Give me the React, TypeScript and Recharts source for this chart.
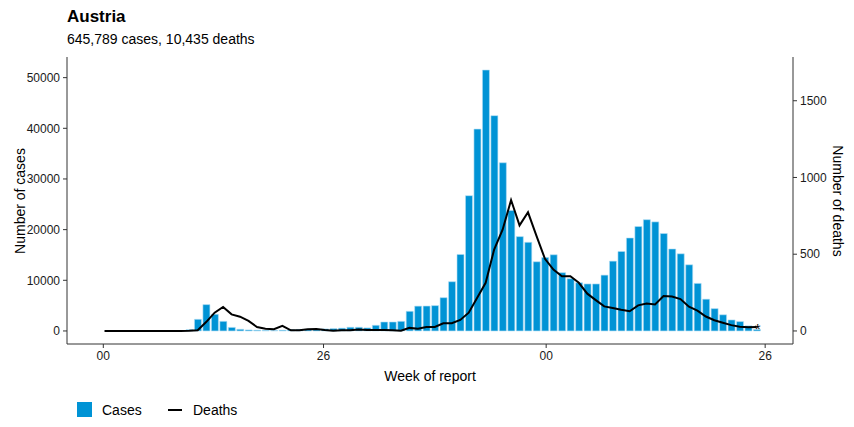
import React from 'react'
import { ComposedChart, Bar, Line, XAxis, YAxis } from 'recharts'

// weekly counts, first week of 2020 onwards
const cases = [
    0, 0, 0, 0, 0, 0, 0, 0, 0, 0,
    250, 2300, 5200, 3290, 1900, 700, 330, 200, 150, 120,
    100, 150, 250, 300, 350, 350, 400, 470, 550, 730,
    730, 600, 1120, 1770, 1770, 1900, 3880, 4900, 4920, 5000,
    6570, 9720, 15100, 26700, 39840, 51500, 42500, 33200, 23800, 18620,
    17500, 13660, 14510, 15040, 11500, 10310, 9520, 9280, 9280, 11020,
    13780, 15690, 18350, 20610, 21960, 21530, 19230, 16180, 15230, 13060,
    9390, 6270, 4410, 3190, 2170, 1850, 1000, 300,
]
const deaths = [
    0, 0, 0, 0, 0, 0, 0, 0, 0, 0,
    1, 5, 58, 119, 156, 108, 93, 65, 26, 15,
    11, 33, 4, 4, 11, 13, 6, 2, 4, 4,
    9, 7, 7, 6, 4, 2, 20, 15, 26, 26,
    50, 50, 72, 119, 216, 314, 530, 660, 853, 688,
    773, 620, 470, 400, 357, 357, 314, 243, 201, 160,
    150, 138, 128, 167, 179, 172, 227, 225, 208, 158,
    132, 94, 70, 54, 38, 27, 24, 25,
]
// days since 1 Jan 2020 where the week labels sit
const tickDays = [0, 182, 366, 547]
const tickLabels = ['00', '26', '00', '26']

const data = cases.map((c, i) => ({ day: 1 + 7 * i, cases: c, deaths: deaths[i] }))

const FONT = '"Liberation Sans", Arial, Helvetica, sans-serif'
const BLUE = '#0093d5'

const EndDot = (props: any) => {
    const { cx, cy, index } = props
    if (index !== data.length - 1) return <g key={`d-${index}`} />
    return (
        <text key={`d-${index}`} x={cx + 1} y={cy + 7} textAnchor="middle" fontSize={15} fill="#000">*</text>
    )
}

const App: React.FC = () => {
    return (
        <div style={{ position: 'absolute', left: 0, top: 0, width: 854, height: 427, background: '#fff', fontFamily: FONT }}>
            <div style={{ position: 'absolute', left: 67, top: 8, fontSize: 17, lineHeight: '17px', fontWeight: 'bold' }}>Austria</div>
            <div style={{ position: 'absolute', left: 67, top: 32, fontSize: 14, lineHeight: '14px' }}>645,789 cases, 10,435 deaths</div>

            <ComposedChart width={854} height={427} data={data} margin={{ top: 57, right: 0, left: 0, bottom: 43 }}>
                <XAxis
                    dataKey="day"
                    type="number"
                    domain={[-30, 570]}
                    ticks={tickDays}
                    tickFormatter={(v: number) => tickLabels[tickDays.indexOf(v)]}
                    allowDataOverflow
                    height={40}
                    tickSize={4}
                    tickMargin={3}
                    stroke="#333"
                    tick={{ fontSize: 12, fill: '#1a1a1a' }}
                />
                <YAxis
                    yAxisId="cases"
                    domain={[-2575, 54075]}
                    ticks={[0, 10000, 20000, 30000, 40000, 50000]}
                    allowDataOverflow
                    width={67}
                    tickSize={4}
                    tickMargin={3}
                    stroke="#333"
                    tick={{ fontSize: 12, fill: '#1a1a1a' }}
                />
                <YAxis
                    yAxisId="deaths"
                    orientation="right"
                    domain={[-85, 1785]}
                    ticks={[0, 500, 1000, 1500]}
                    allowDataOverflow
                    width={61}
                    tickSize={4}
                    tickMargin={3}
                    stroke="#333"
                    tick={{ fontSize: 12, fill: '#1a1a1a' }}
                />
                <Bar yAxisId="cases" dataKey="cases" fill={BLUE} stroke="#b3dff5" strokeWidth={0.6} barSize={7} isAnimationActive={false} />
                <Line yAxisId="deaths" dataKey="deaths" type="linear" stroke="#000" strokeWidth={2} dot={EndDot} activeDot={false} isAnimationActive={false} />
            </ComposedChart>

            <div style={{ position: 'absolute', left: 20, top: 200.5, transform: 'translate(-50%, -50%) rotate(-90deg)', fontSize: 14, whiteSpace: 'nowrap' }}>Number of cases</div>
            <div style={{ position: 'absolute', left: 838, top: 200.5, transform: 'translate(-50%, -50%) rotate(90deg)', fontSize: 14, whiteSpace: 'nowrap' }}>Number of deaths</div>
            <div style={{ position: 'absolute', left: 430, top: 376, transform: 'translate(-50%, -50%)', fontSize: 14, whiteSpace: 'nowrap' }}>Week of report</div>

            <div style={{ position: 'absolute', left: 77, top: 402, width: 15, height: 15, background: BLUE }} />
            <div style={{ position: 'absolute', left: 102, top: 410, transform: 'translateY(-50%)', fontSize: 14 }}>Cases</div>
            <div style={{ position: 'absolute', left: 168, top: 409, width: 14, height: 2, background: '#000' }} />
            <div style={{ position: 'absolute', left: 193, top: 410, transform: 'translateY(-50%)', fontSize: 14 }}>Deaths</div>
        </div>
    )
}

export default App
